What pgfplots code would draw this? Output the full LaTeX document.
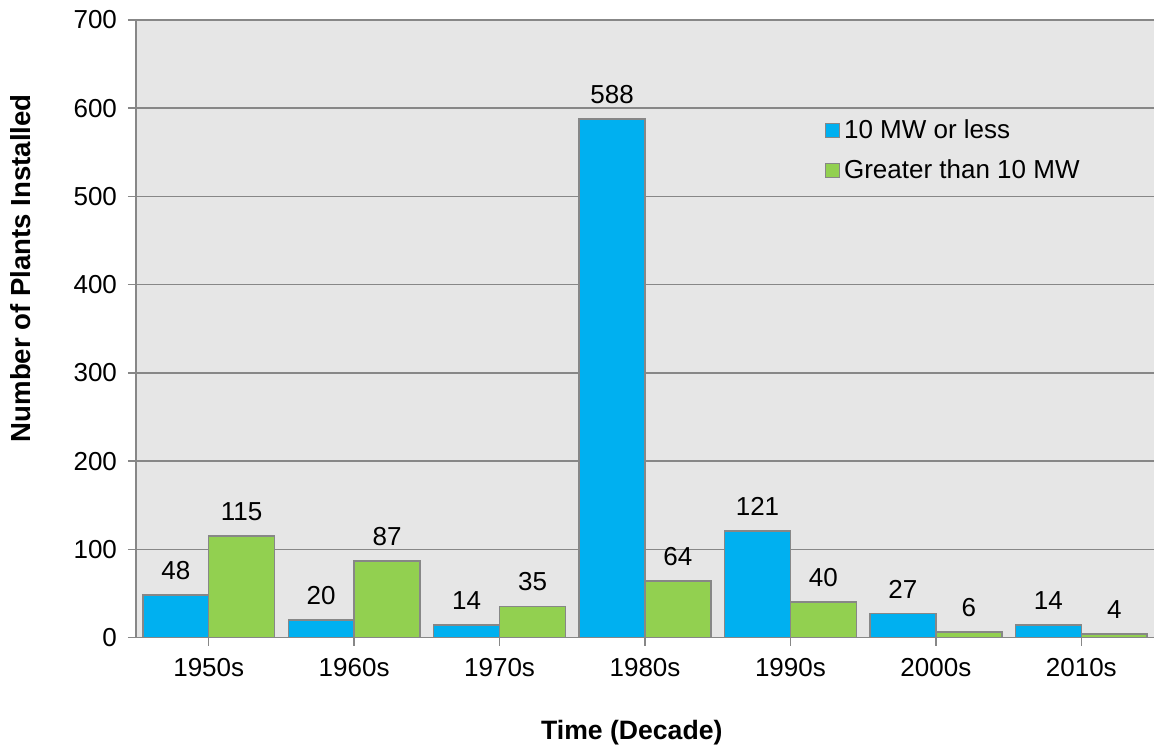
\documentclass[border=0pt]{standalone}
\usepackage{pgfplots}
\pgfplotsset{compat=1.18}
\usepackage{fontspec}
\setmainfont{Liberation Sans}
\definecolor{barblue}{HTML}{00B0F0}
\definecolor{bargreen}{HTML}{92D050}
\definecolor{edge}{HTML}{878787}
\definecolor{panel}{HTML}{E6E6E6}

\begin{document}
\begin{tikzpicture}
\begin{axis}[
  at={(0,0)}, anchor=south west,
  scale only axis, width=509pt, height=308.75pt,
  xmin=-0.5, xmax=6.5, ymin=0, ymax=700,
  ytick={0,100,...,700},
  xtick={0,...,6},
  xticklabels={1950s,1960s,1970s,1980s,1990s,2000s,2010s},
  axis lines*=left,
  axis background/.style={fill=panel},
  ymajorgrids,
  grid style={edge, line width=0.75pt},
  axis line style={edge, line width=0.75pt},
  tick style={edge, line width=0.75pt},
  tick align=outside, major tick length=4pt,
  font=\fontsize{13}{15.5}\selectfont,
  /pgf/number format/assume math mode=true,
  yticklabel style={xshift=-2pt},
  xticklabel style={yshift=-3pt},
  ylabel={\bfseries Number of Plants Installed},
  xlabel={\bfseries Time (Decade)},
  ylabel style={at={(axis description cs:-0.113,0.598)}, anchor=center, font=\fontsize{13.8}{16}\selectfont},
  xlabel style={at={(axis description cs:0.487,-0.154)}, anchor=center, font=\fontsize{13.3}{16}\selectfont},
  ybar, bar width=0.453,
  nodes near coords,
  nodes near coords style={font=\fontsize{13}{15.5}\selectfont, text=black, anchor=south, yshift=4pt},
  legend style={at={(axis description cs:0.676,0.846)}, anchor=north west,
    draw=none, fill=none, font=\fontsize{13}{15.5}\selectfont,
    row sep=5pt, inner sep=0pt},
  legend cell align=left,
  legend image code/.code={\draw[#1, draw=edge, line width=0.75pt] (0pt,-3.5pt) rectangle (7pt,3.5pt);},
]
\addplot[fill=barblue, draw=edge, line width=0.75pt, bar shift=-0.2265]
  coordinates {(0,48) (1,20) (2,14) (3,588) (4,121) (5,27) (6,14)};
\addplot[fill=bargreen, draw=edge, line width=0.75pt, bar shift=0.2265]
  coordinates {(0,115) (1,87) (2,35) (3,64) (4,40) (5,6) (6,4)};
\legend{10 MW or less, Greater than 10 MW}
\end{axis}
\pgfresetboundingbox
\path[use as bounding box] (-68pt,-55.25pt) rectangle (509pt,318.75pt);
\end{tikzpicture}
\end{document}
